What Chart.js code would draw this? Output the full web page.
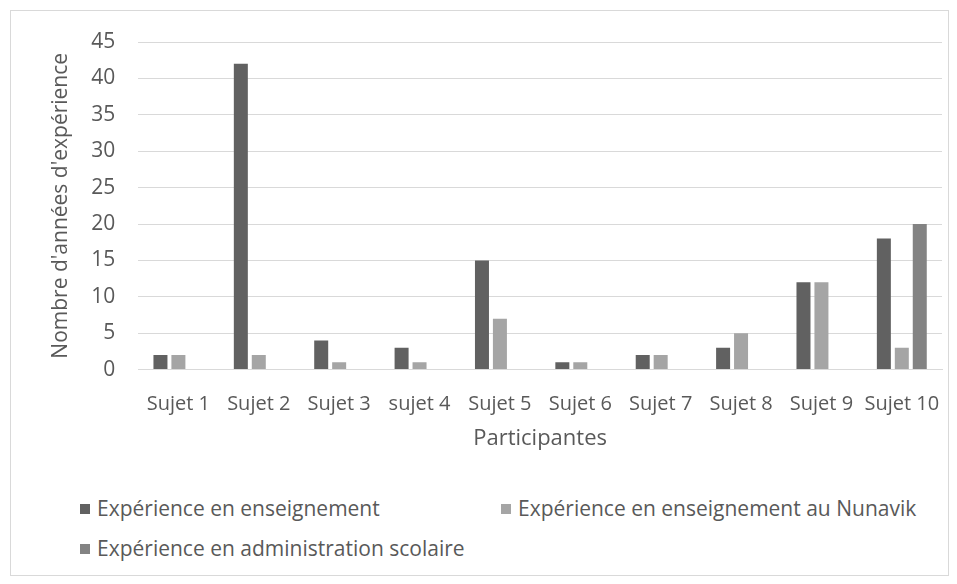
<!DOCTYPE html>
<html>
<head>
<meta charset="utf-8">
<script src="https://cdn.jsdelivr.net/npm/chart.js@4"></script>
<style>
  body { margin: 0; background: #fff; }
  #frame { position: absolute; left: 10px; top: 10px; width: 937px; height: 564px; border: 1px solid #d9d9d9; }
  #wrap { position: absolute; left: 0; top: 0; width: 957px; height: 470px; }
  #legend { position: absolute; left: 80px; top: 495px; width: 860px; font-family: "Open Sans", sans-serif; font-size: 21px; line-height: 26px; color: #595959; }
  #legend div { position: absolute; white-space: nowrap; }
  #legend span { display: inline-block; width: 10px; height: 10px; margin-right: 7px; vertical-align: 2px; }
</style>
</head>
<body>
<div id="frame"></div>
<div id="wrap"><canvas id="chart"></canvas></div>
<div id="legend"></div>
<script>
const categories = ['Sujet 1', 'Sujet 2', 'Sujet 3', 'sujet 4', 'Sujet 5', 'Sujet 6', 'Sujet 7', 'Sujet 8', 'Sujet 9', 'Sujet 10'];
const enseignement = [2, 42, 4, 3, 15, 1, 2, 3, 12, 18];
const nunavik = [2, 2, 1, 1, 7, 1, 2, 5, 12, 3];
const administration = [0, 0, 0, 0, 0, 0, 0, 0, 0, 20];
const yTicks = [0, 5, 10, 15, 20, 25, 30, 35, 40, 45];

const seriesNames = ['Expérience en enseignement', 'Expérience en enseignement au Nunavik', 'Expérience en administration scolaire'];
const seriesColors = ['#616161', '#a5a5a5', '#838383'];

const font = "'Open Sans', sans-serif";
const textColor = '#595959';

const chart = new Chart(document.getElementById('chart'), {
  type: 'bar',
  data: {
    labels: categories,
    datasets: [enseignement, nunavik, administration].map((d, i) => ({
      label: seriesNames[i],
      data: d,
      backgroundColor: seriesColors[i],
      categoryPercentage: 0.67,
      barPercentage: 0.78
    }))
  },
  options: {
    responsive: true,
    maintainAspectRatio: false,
    animation: false,
    layout: { padding: { left: 48, right: 15, top: 42, bottom: 18 } },
    plugins: { legend: { display: false }, tooltip: { enabled: false } },
    scales: {
      x: {
        grid: { display: false },
        border: { color: '#d9d9d9' },
        ticks: { color: textColor, font: { family: font, size: 20 }, maxRotation: 0, autoSkip: false, padding: 15 },
        title: { display: true, text: 'Participantes', color: textColor, font: { family: font, size: 22 }, padding: { top: -6, bottom: 0 } }
      },
      y: {
        min: 0,
        max: 45,
        afterBuildTicks: axis => { axis.ticks = yTicks.map(v => ({ value: v })); },
        grid: { color: '#d9d9d9', drawTicks: false },
        border: { display: false },
        ticks: { color: textColor, font: { family: font, size: 21 }, padding: 23 },
        title: { display: true, text: "Nombre d'années d'expérience", color: textColor, font: { family: font, size: 21 }, padding: { top: 0, bottom: -5 } }
      }
    }
  }
});

const legend = document.getElementById('legend');
const legendPos = [[0, 0], [421, 0], [0, 40]];
chart.data.datasets.forEach((ds, i) => {
  const item = document.createElement('div');
  item.style.left = legendPos[i][0] + 'px';
  item.style.top = legendPos[i][1] + 'px';
  item.innerHTML = '<span style="background:' + ds.backgroundColor + '"></span>' + ds.label;
  legend.appendChild(item);
});
</script>
</body>
</html>
